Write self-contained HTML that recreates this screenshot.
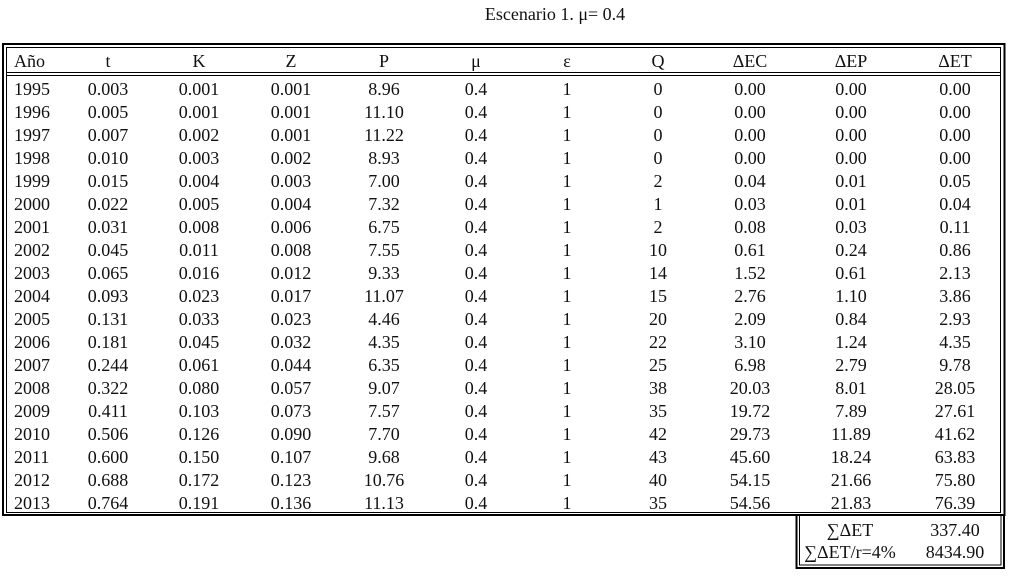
<!DOCTYPE html>
<html><head><meta charset="utf-8"><style>
html,body{margin:0;padding:0;background:#fff;}
svg{display:block;font-family:"Liberation Serif",serif;}
text{fill:#111;font-size:18px;}
</style></head><body>
<svg id="t" width="1014" height="583">
<text x="555" y="20" text-anchor="middle">Escenario 1. μ= 0.4</text>
<g stroke="#000" fill="none">
<rect x="3" y="44" width="1001.5" height="471" stroke-width="2"/>
<rect x="6.5" y="47.5" width="994" height="465" stroke-width="1"/>
<line x1="6" y1="72.5" x2="1001" y2="72.5"/>
<line x1="6" y1="75.5" x2="1001" y2="75.5"/>
<rect x="796.5" y="515" width="207.5" height="53" stroke-width="2"/>
<rect x="799.5" y="515" width="201.5" height="50" stroke-width="1"/>
</g>
<g id="body"></g>
</svg>
<script>
const headers=["Año","t","K","Z","P","μ","ε","Q","ΔEC","ΔEP","ΔET"];
const years=["1995","1996","1997","1998","1999","2000","2001","2002","2003","2004","2005","2006","2007","2008","2009","2010","2011","2012","2013"];
const tVals=["0.003","0.005","0.007","0.010","0.015","0.022","0.031","0.045","0.065","0.093","0.131","0.181","0.244","0.322","0.411","0.506","0.600","0.688","0.764"];
const kVals=["0.001","0.001","0.002","0.003","0.004","0.005","0.008","0.011","0.016","0.023","0.033","0.045","0.061","0.080","0.103","0.126","0.150","0.172","0.191"];
const zVals=["0.001","0.001","0.001","0.002","0.003","0.004","0.006","0.008","0.012","0.017","0.023","0.032","0.044","0.057","0.073","0.090","0.107","0.123","0.136"];
const pVals=["8.96","11.10","11.22","8.93","7.00","7.32","6.75","7.55","9.33","11.07","4.46","4.35","6.35","9.07","7.57","7.70","9.68","10.76","11.13"];
const muVals=Array(19).fill("0.4");
const epsVals=Array(19).fill("1");
const qVals=["0","0","0","0","2","1","2","10","14","15","20","22","25","38","35","42","43","40","35"];
const ecVals=["0.00","0.00","0.00","0.00","0.04","0.03","0.08","0.61","1.52","2.76","2.09","3.10","6.98","20.03","19.72","29.73","45.60","54.15","54.56"];
const epVals=["0.00","0.00","0.00","0.00","0.01","0.01","0.03","0.24","0.61","1.10","0.84","1.24","2.79","8.01","7.89","11.89","18.24","21.66","21.83"];
const etVals=["0.00","0.00","0.00","0.00","0.05","0.04","0.11","0.86","2.13","3.86","2.93","4.35","9.78","28.05","27.61","41.62","63.83","75.80","76.39"];
const sumLabels=["∑ΔET","∑ΔET/r=4%"];
const sumValues=["337.40","8434.90"];
const cols=[years,tVals,kVals,zVals,pVals,muVals,epsVals,qVals,ecVals,epVals,etVals];
const colNames=["year","t","k","z","p","mu","epsilon","q","delta-ec","delta-ep","delta-et"];
const cx=[14,108,199,291,384,476,567,658,750,851,955];
const NS="http://www.w3.org/2000/svg";
const g=document.getElementById('body');
function txt(x,y,s,anchor){const e=document.createElementNS(NS,'text');e.setAttribute('x',x);e.setAttribute('y',y);e.setAttribute('text-anchor',anchor);e.textContent=s;g.appendChild(e);return e;}
headers.forEach((h,i)=>{
 const e=txt(cx[i],67,h,i===0?'start':'middle');
 
 
});
cols.forEach((c,i)=>{c.forEach((v,r)=>{
 const e=txt(cx[i],95+r*23,v,i===0?'start':'middle');
 
 
});});
sumLabels.forEach((l,r)=>{
 const a=txt(850,536+r*22,l,'middle');
 
 
 const b=txt(955,536+r*22,sumValues[r],'middle');
 
 
});
</script>
</body></html>
